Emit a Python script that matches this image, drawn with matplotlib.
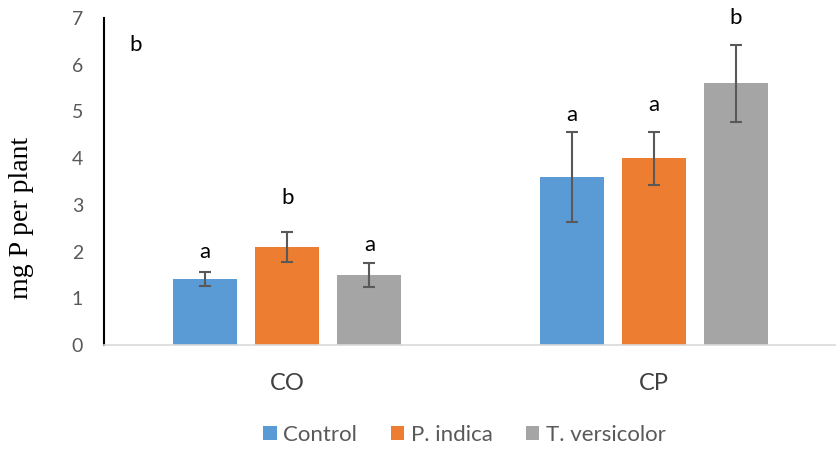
import matplotlib
matplotlib.use("Agg")
import matplotlib.pyplot as plt
import numpy as np

groups = ["CO", "CP"]
series = ["Control", "P. indica", "T. versicolor"]
colors = ["#5B9BD5", "#ED7D31", "#A5A5A5"]
means = {
    "Control": [1.41, 3.60],
    "P. indica": [2.10, 4.00],
    "T. versicolor": [1.50, 5.60],
}
errors = {
    "Control": [0.15, 0.97],
    "P. indica": [0.32, 0.57],
    "T. versicolor": [0.26, 0.82],
}
letters = {
    "Control": ["a", "a"],
    "P. indica": ["b", "a"],
    "T. versicolor": ["a", "b"],
}
letter_y = {
    "Control": [1.99, 4.92],
    "P. indica": [3.15, 5.14],
    "T. versicolor": [2.14, 7.00],
}
yticks = [0, 1, 2, 3, 4, 5, 6, 7]

sans = ["Lato", "DejaVu Sans"]
fig = plt.figure(figsize=(8.37, 4.5), dpi=100)
ax = fig.add_axes([104 / 837, 105 / 450, 733 / 837, 327 / 450])

x = np.arange(len(groups))
width = 0.175
step = 0.224
for i, s in enumerate(series):
    pos = x + (i - 1) * step
    ax.bar(pos, means[s], width, color=colors[i], label=s, zorder=2)
    ax.errorbar(pos, means[s], yerr=errors[s], fmt="none", ecolor="#595959",
                elinewidth=1.5, capsize=4.5, capthick=1.5, zorder=3)
    for p, lt, ly in zip(pos, letters[s], letter_y[s]):
        ax.text(p, ly, lt, ha="center", va="center", fontsize=16,
                family=sans, color="black", clip_on=False)

ax.text(-0.415, 6.42, "b", ha="center", va="center", fontsize=16,
        family=sans, color="black")

ax.set_xlim(-0.5, 1.5)
ax.set_ylim(0, 7)
ax.set_xticks(x)
ax.set_xticklabels(groups, family=sans, fontsize=17, color="#404040")
ax.set_yticks(yticks)
ax.set_yticklabels([str(v) for v in yticks], family=sans, fontsize=14,
                   color="#595959")
ax.tick_params(axis="both", length=0)
ax.tick_params(axis="x", pad=20)
ax.tick_params(axis="y", pad=15)

for side in ["top", "right"]:
    ax.spines[side].set_visible(False)
ax.spines["left"].set_color("black")
ax.spines["left"].set_linewidth(1.5)
ax.spines["bottom"].set_color("#D9D9D9")
ax.spines["bottom"].set_linewidth(1.2)

ax.set_ylabel("mg P per plant", family="Liberation Serif", fontsize=20)
ax.yaxis.set_label_coords(-0.096, 0.39)

fig.legend(loc="center", bbox_to_anchor=(0.555, 0.033), ncol=3,
           frameon=False, prop={"family": sans, "size": 16},
           handlelength=0.6, handleheight=0.6, handletextpad=0.3,
           columnspacing=1.5, labelcolor="#595959")

fig.savefig("out.png", dpi=100)
